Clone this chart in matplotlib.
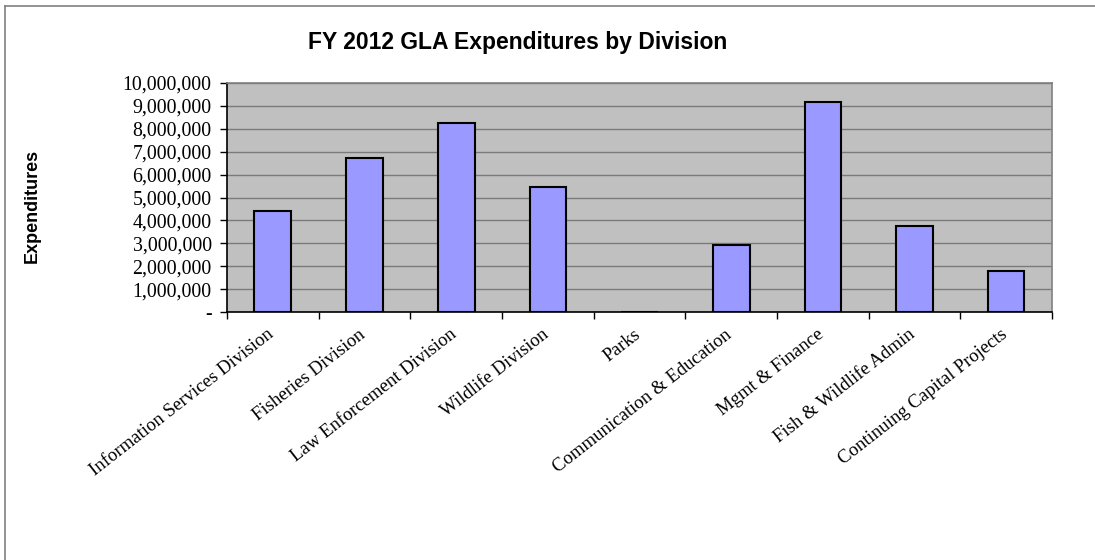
import matplotlib.pyplot as plt
from matplotlib.lines import Line2D
from matplotlib.ticker import FuncFormatter, FixedLocator, NullFormatter

divisions = [
    "Information Services Division",
    "Fisheries Division",
    "Law Enforcement Division",
    "Wildlife Division",
    "Parks",
    "Communication & Education",
    "Mgmt & Finance",
    "Fish & Wildlife Admin",
    "Continuing Capital Projects",
]
expenditures = [4420000, 6710000, 8260000, 5440000, 0, 2920000, 9160000, 3760000, 1770000]

W, H = 1095, 560
fig = plt.figure(figsize=(W / 100, H / 100), dpi=100)
fig.patch.set_facecolor("white")

# chart-area frame (only top and left edges fall inside the canvas)
fig.add_artist(Line2D([5 / W, 5 / W], [0, 1 - 6 / H], color="#808080", lw=1.2))
fig.add_artist(Line2D([5 / W, 1], [1 - 6 / H, 1 - 6 / H], color="#808080", lw=1.2))

ax = fig.add_axes([227 / W, 1 - 312 / H, 825 / W, 229 / H])
ax.set_facecolor("#C0C0C0")

x = list(range(len(divisions)))
ax.bar(x, expenditures, width=0.4, color="#9999FF", edgecolor="black", linewidth=1.5, zorder=3)

ax.set_xlim(-0.5, len(divisions) - 0.5)
ax.set_ylim(0, 10000000)
ax.set_yticks(range(0, 10000001, 1000000))
ax.yaxis.set_major_formatter(FuncFormatter(lambda v, p: "-" if v == 0 else f"{int(v):,}"))
ax.grid(axis="y", color="#7a7a7a", linewidth=1.0, zorder=1)
ax.set_axisbelow(True)

# category ticks sit between bars; labels sit under bar centres
ax.xaxis.set_major_locator(FixedLocator([i - 0.5 for i in range(len(divisions) + 1)]))
ax.xaxis.set_major_formatter(NullFormatter())
ax.tick_params(axis="x", which="major", direction="out", length=5, color="black", width=1)
ax.tick_params(axis="y", direction="out", length=5, width=1, labelsize=14.3, pad=6)
for lbl in ax.get_yticklabels():
    lbl.set_family("Liberation Serif")

for i, name in enumerate(divisions):
    ax.annotate(name, xy=(i, 0), xycoords=("data", "axes fraction"),
                xytext=(4, -14), textcoords="offset pixels",
                rotation=38, ha="right", va="top", rotation_mode="default",
                family="Liberation Serif", fontsize=13.5)

for side in ("top", "right"):
    ax.spines[side].set_color("#808080")
    ax.spines[side].set_linewidth(1.2)
for side in ("left", "bottom"):
    ax.spines[side].set_color("black")
    ax.spines[side].set_linewidth(1.2)

fig.text(518 / W, 1 - 42 / H, "FY 2012 GLA Expenditures by Division",
         ha="center", va="center", family="Liberation Sans", fontweight="bold", fontsize=16.5)
fig.text(32 / W, 1 - 206 / H, "Expenditures", rotation=90,
         ha="center", va="center", family="Liberation Sans", fontweight="bold", fontsize=13)

fig.savefig("out.png", dpi=100)
